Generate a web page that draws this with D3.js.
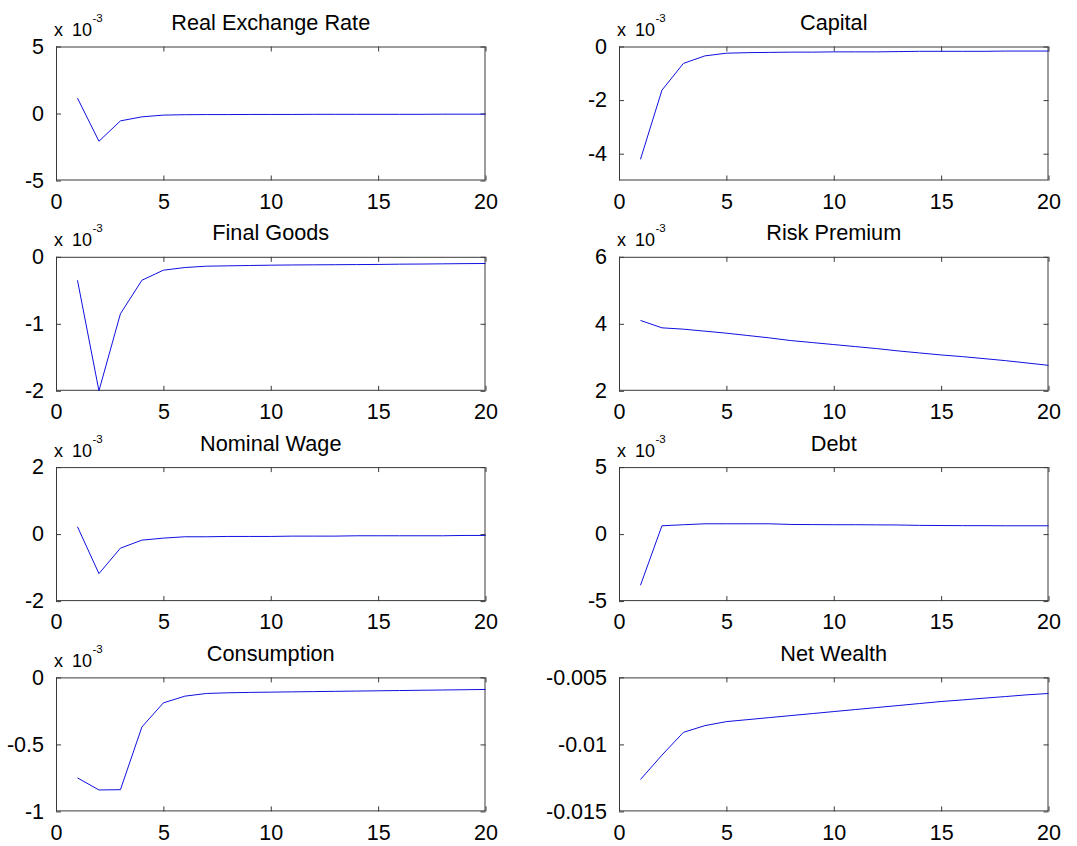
<!DOCTYPE html>
<html>
<head>
<meta charset="utf-8">
<script src="https://cdn.jsdelivr.net/npm/d3@7"></script>
<style>
  body { margin: 0; background: #fff; }
  svg { display: block; }
  text { font-family: "Liberation Sans", Arial, Helvetica, sans-serif; fill: #000; }
</style>
</head>
<body>
<svg id="fig" width="1077" height="846"></svg>
<script>
// Impulse responses over 20 periods. Panels marked with an exponent hold values in units of 10^-3.
const periods = d3.range(1, 21);

const titles = ["Real Exchange Rate", "Capital", "Final Goods", "Risk Premium",
                "Nominal Wage", "Debt", "Consumption", "Net Wealth"];

const realExchangeRate = [1.15, -2.07, -0.55, -0.25, -0.12, -0.09, -0.08, -0.08, -0.07, -0.07,
                          -0.07, -0.06, -0.06, -0.06, -0.06, -0.06, -0.06, -0.05, -0.05, -0.05];
const capital = [-4.21, -1.63, -0.63, -0.35, -0.25, -0.23, -0.22, -0.21, -0.21, -0.20,
                 -0.20, -0.20, -0.19, -0.18, -0.18, -0.18, -0.18, -0.17, -0.17, -0.17];
const finalGoods = [-0.35, -2.0, -0.85, -0.35, -0.2, -0.16, -0.14, -0.135, -0.13, -0.125,
                    -0.122, -0.12, -0.118, -0.116, -0.114, -0.11, -0.108, -0.105, -0.102, -0.1];
const riskPremium = [4.1, 3.88, 3.84, 3.78, 3.72, 3.65, 3.58, 3.5, 3.44, 3.38,
                     3.32, 3.26, 3.19, 3.13, 3.07, 3.02, 2.96, 2.9, 2.83, 2.76];
const nominalWage = [0.22, -1.18, -0.42, -0.18, -0.12, -0.08, -0.08, -0.07, -0.07, -0.07,
                     -0.06, -0.06, -0.06, -0.05, -0.05, -0.05, -0.05, -0.05, -0.04, -0.04];
const debt = [-3.82, 0.62, 0.7, 0.77, 0.77, 0.77, 0.77, 0.72, 0.71, 0.7,
              0.7, 0.69, 0.68, 0.65, 0.64, 0.63, 0.63, 0.62, 0.62, 0.62];
const consumption = [-0.75, -0.84, -0.838, -0.37, -0.19, -0.14, -0.12, -0.115, -0.112, -0.11,
                     -0.108, -0.106, -0.104, -0.102, -0.1, -0.098, -0.096, -0.094, -0.092, -0.09];
const netWealth = [-0.01262, -0.0108, -0.0091, -0.0086, -0.0083, -0.00815, -0.008, -0.00785, -0.0077, -0.00755,
                   -0.0074, -0.00725, -0.0071, -0.00695, -0.0068, -0.00668, -0.00655, -0.00643, -0.0063, -0.0062];

const series = [realExchangeRate, capital, finalGoods, riskPremium,
                nominalWage, debt, consumption, netWealth];

// y-axis limits per panel
const yDomains = [[-5, 5], [-5, 0], [-2, 0], [2, 6], [-2, 2], [-5, 5], [-1, 0], [-0.015, -0.005]];
// y tick values and labels per panel
const yTicks = [[-5, 0, 5], [-4, -2, 0], [-2, -1, 0], [2, 4, 6], [-2, 0, 2], [-5, 0, 5], [-1, -0.5, 0],
                [-0.015, -0.01, -0.005]];
const yTickLabels = [["-5", "0", "5"], ["-4", "-2", "0"], ["-2", "-1", "0"], ["2", "4", "6"],
                     ["-2", "0", "2"], ["-5", "0", "5"], ["-1", "-0.5", "0"],
                     ["-0.015", "-0.01", "-0.005"]];
const showExponent = [true, true, true, true, true, true, true, false];

const xTicks = [0, 5, 10, 15, 20];
const xTickLabels = ["0", "5", "10", "15", "20"];

// Layout of the 4x2 grid
const colLeft = [56, 619];
const colWidth = 429.5;
const rowTop = [46.5, 256.8, 467.1, 677.4];
const boxHeight = 134;
const tickLen = 5;
const boxColor = "#3a3a3a";
const tickFont = 21.5;

const svg = d3.select("#fig");

series.forEach((values, i) => {
  const col = i % 2, row = Math.floor(i / 2);
  const left = colLeft[col], top = rowTop[row];
  const x = d3.scaleLinear().domain([0, 20]).range([left, left + colWidth]);
  const y = d3.scaleLinear().domain(yDomains[i]).range([top + boxHeight, top]);
  const g = svg.append("g");

  // bottom axis, inward ticks
  const xb = g.append("g").attr("transform", `translate(0,${top + boxHeight})`)
    .call(d3.axisBottom(x).tickValues(xTicks).tickSize(-tickLen).tickPadding(tickLen + 8)
      .tickFormat((d, k) => xTickLabels[k]));
  // top axis ticks, no labels
  const xt = g.append("g").attr("transform", `translate(0,${top})`)
    .call(d3.axisTop(x).tickValues(xTicks).tickSize(-tickLen).tickFormat(""));
  // left axis, inward ticks
  const yl = g.append("g").attr("transform", `translate(${left},0)`)
    .call(d3.axisLeft(y).tickValues(yTicks[i]).tickSize(-tickLen).tickPadding(tickLen + 7)
      .tickFormat((d, k) => yTickLabels[i][k]));
  // right axis ticks, no labels
  const yr = g.append("g").attr("transform", `translate(${left + colWidth},0)`)
    .call(d3.axisRight(y).tickValues(yTicks[i]).tickSize(-tickLen).tickFormat(""));

  [xb, xt, yl, yr].forEach(a => {
    a.select(".domain").remove();
    a.selectAll("line").attr("stroke", boxColor);
    a.selectAll("text").attr("font-size", tickFont).attr("fill", "#000")
      .attr("font-family", "'Liberation Sans', Arial, sans-serif");
  });
  xb.selectAll("text").attr("dy", "0.71em");

  // axes box
  g.append("rect")
    .attr("x", left + 0.5).attr("y", top + 0.5)
    .attr("width", colWidth - 1).attr("height", boxHeight - 1)
    .attr("fill", "none").attr("stroke", boxColor).attr("stroke-width", 1);

  // response line
  const line = d3.line().x((d, k) => x(periods[k])).y(d => y(d));
  g.append("path").datum(values)
    .attr("d", line)
    .attr("fill", "none")
    .attr("stroke", "#1010e0")
    .attr("stroke-width", 1);

  // title
  g.append("text")
    .attr("x", left + colWidth / 2).attr("y", top - 16.5)
    .attr("text-anchor", "middle").attr("font-size", 21.7)
    .text(titles[i]);

  // exponent label
  if (showExponent[i]) {
    const ex = g.append("text").attr("font-size", 18);
    ex.append("tspan").attr("x", left - 2).attr("y", top - 10.5).text("x");
    ex.append("tspan").attr("x", left + 16).attr("y", top - 10.5).text("10");
    ex.append("tspan").attr("x", left + 36.5).attr("y", top - 24.5).attr("font-size", 11.5).text("-3");
  }
});
</script>
</body>
</html>
